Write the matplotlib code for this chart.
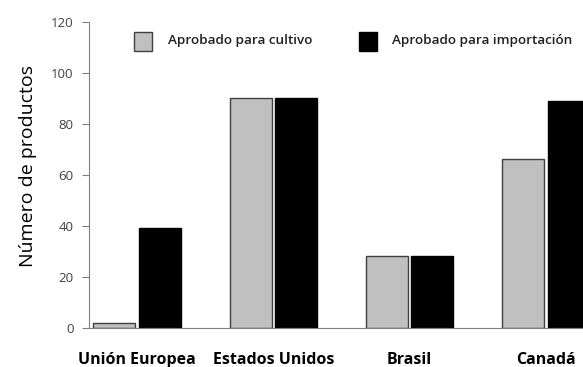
import matplotlib
matplotlib.use("Agg")
import matplotlib.pyplot as plt
from matplotlib.patches import Rectangle
import numpy as np

categories = ["Unión Europea", "Estados Unidos", "Brasil", "Canadá"]
cultivo = [2, 90, 28, 66]
importacion = [39, 90, 28, 89]
series_labels = ["Aprobado para cultivo", "Aprobado para importación"]
yticks = [0, 20, 40, 60, 80, 100, 120]

plt.rcParams['font.family'] = ['Open Sans', 'DejaVu Sans']

W, H = 583, 367
fig = plt.figure(figsize=(W/100, H/100), dpi=100)
ax = fig.add_axes([89/W, 39.3/H, 505/W, 306/H])

x = np.arange(len(categories))
w = 0.308
off = 0.166
ax.bar(x - off, cultivo, w, color="#c0c0c0", edgecolor="#404040", linewidth=1.0)
ax.bar(x + off, importacion, w, color="#000000", edgecolor="#000000", linewidth=1.0)

ax.set_xlim(-0.352, 3.352)
ax.set_ylim(0, 120)
ax.set_yticks(yticks)
ax.set_yticklabels([str(v) for v in yticks], fontsize=9.5, color="#404040")
ax.set_xticks(x)
ax.set_xticklabels(categories, fontsize=11.5, fontweight="bold", color="#000000")
ax.tick_params(axis="x", length=0, pad=17.5)
ax.tick_params(axis="y", length=5, width=0.8, color="#808080", pad=6)
for s in ["top", "right"]:
    ax.spines[s].set_visible(False)
ax.spines["left"].set_color("#808080")
ax.spines["bottom"].set_color("#808080")
ax.set_ylabel("Número de productos", fontsize=14, color="#000000")
ax.yaxis.set_label_coords(-0.102, 0.528)

# legend drawn manually in figure pixel coordinates
leg_items = [(133.5, "#c0c0c0", "#404040", 168, series_labels[0]),
             (359, "#000000", "#000000", 392.5, series_labels[1])]
for px, fc, ec, tx, label in leg_items:
    fig.patches.append(Rectangle((px/W, 1 - 50.5/H), 18.5/W, 19/H, transform=fig.transFigure,
                                 facecolor=fc, edgecolor=ec, linewidth=1.0))
    fig.text(tx/W, 1 - 40.5/H, label, fontsize=9.7, fontweight="semibold",
             color="#202020", va="center", ha="left")

fig.savefig("out.png", dpi=100)
